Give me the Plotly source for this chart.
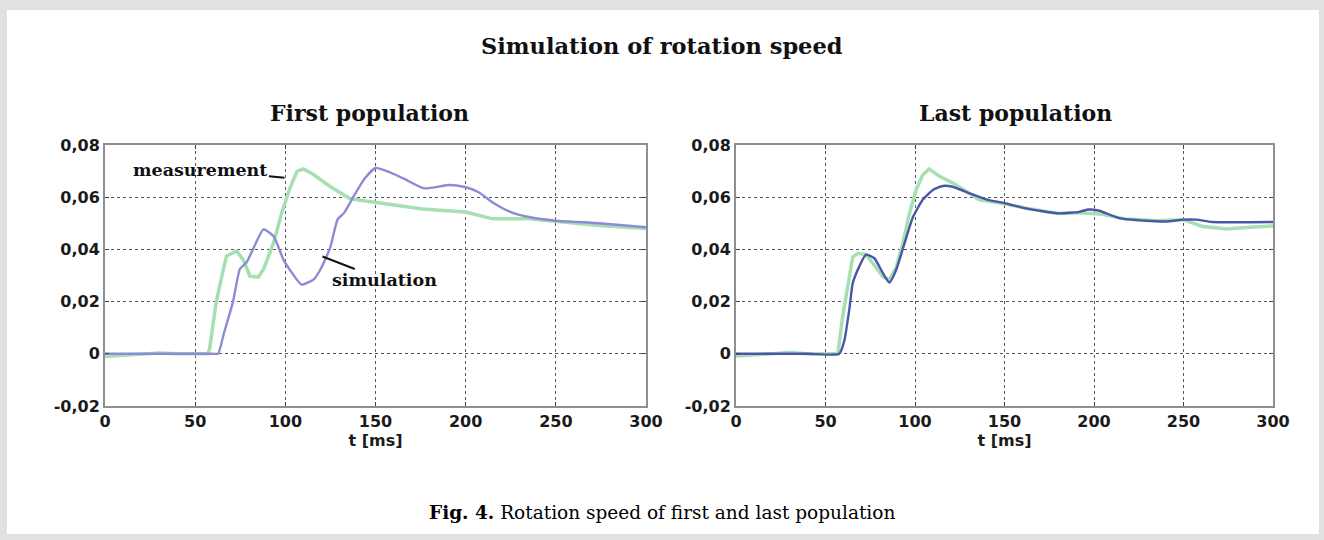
import plotly.graph_objects as go

# ---------------- data ----------------
t_meas_first = [0, 10, 20, 30, 40, 50, 57, 58, 61.7, 65.5, 67.4, 73, 76.7, 80.4, 85, 88,
                93.5, 98, 102.8, 106.6, 110, 115, 125, 136, 150, 176, 200, 215, 235,
                250, 274, 300]
v_meas_first = [-0.001, -0.0005, 0, 0.0003, 0, 0, 0, 0.002, 0.02, 0.032, 0.0375, 0.0394,
                0.036, 0.0297, 0.0294, 0.0325, 0.0426, 0.054, 0.064, 0.070, 0.0708, 0.069,
                0.064, 0.0594, 0.058, 0.0555, 0.0543, 0.0517, 0.0517, 0.0507, 0.0492, 0.048]

t_sim_first = [0, 20, 40, 60, 62.7, 66, 71, 74.8, 78.5, 82, 87.9, 93.5, 99, 103.7, 109,
               115.8, 119.6, 122, 125, 129, 132.6, 138, 143.8, 150, 158, 166, 177, 191,
               199, 207, 215, 225, 235, 250, 274, 300]
v_sim_first = [0, 0, 0, 0, 0, 0.008, 0.02, 0.0325, 0.035, 0.04, 0.0477, 0.045, 0.036,
               0.031, 0.0265, 0.0285, 0.0325, 0.036, 0.041, 0.0515, 0.054, 0.0605, 0.067,
               0.0712, 0.0695, 0.067, 0.0634, 0.0647, 0.064, 0.062, 0.058, 0.0543, 0.0524,
               0.051, 0.050, 0.0485]

t_meas_last = [0, 10, 20, 30, 40, 50, 56.9, 59.6, 62.4, 65.2, 68, 72.6, 76.4, 82, 85.7,
               89.4, 93.1, 96.9, 100.6, 104.3, 108, 113.7, 121, 130.4, 136, 150, 162, 180,
               192, 203, 218, 235, 250, 260, 274, 287, 300]
v_meas_last = [-0.0008, -0.0005, 0, 0.0005, 0, 0, 0, 0.0143, 0.0257, 0.037, 0.0385, 0.038,
               0.0347, 0.0296, 0.0283, 0.033, 0.042, 0.0538, 0.0627, 0.0685, 0.0708, 0.068,
               0.0655, 0.0615, 0.059, 0.0575, 0.0558, 0.0538, 0.054, 0.0536, 0.0516, 0.051,
               0.0514, 0.0489, 0.0478, 0.0485, 0.049]

t_sim_last = [0, 20, 40, 57.7, 60.5, 63.3, 65.2, 68.9, 72.6, 77.3, 82, 85.7, 89.4, 94,
              98.8, 104.3, 110, 115.5, 121, 130.4, 139.7, 150, 162, 180.6, 191.7, 197, 203,
              214, 229, 240, 250, 257, 266, 300]
v_sim_last = [0, 0, 0, 0, 0.005, 0.017, 0.027, 0.0335, 0.038, 0.0366, 0.031, 0.0273, 0.032,
              0.042, 0.0523, 0.059, 0.0628, 0.0643, 0.064, 0.0615, 0.0592, 0.0577, 0.0557,
              0.0538, 0.0544, 0.0553, 0.0548, 0.052, 0.051, 0.0507, 0.0514, 0.0514, 0.0505,
              0.0505]

x_tick_vals = [0, 50, 100, 150, 200, 250, 300]
x_tick_text = ["0", "50", "100", "150", "200", "250", "300"]
y_tick_vals = [-0.02, 0, 0.02, 0.04, 0.06, 0.08]
y_tick_text = ["-0,02", "0", "0,02", "0,04", "0,06", "0,08"]

main_title = "Simulation of rotation speed"
sub_titles = ["First population", "Last population"]
x_title = "t [ms]"
caption = "<b>Fig. 4.</b> Rotation speed of first and last population"

# ---------------- figure ----------------
W, H = 1324, 540
GREEN = "#a6dfb0"
BLUE_FIRST = "#8b8bd6"
BLUE_LAST = "#4b56a8"

fig = go.Figure()
fig.add_trace(go.Scatter(x=t_meas_first, y=v_meas_first, mode="lines",
                         line=dict(color=GREEN, width=3.5), xaxis="x", yaxis="y",
                         showlegend=False))
fig.add_trace(go.Scatter(x=t_sim_first, y=v_sim_first, mode="lines",
                         line=dict(color=BLUE_FIRST, width=2.4, shape="spline", smoothing=0.5),
                         xaxis="x", yaxis="y", showlegend=False))
fig.add_trace(go.Scatter(x=t_meas_last, y=v_meas_last, mode="lines",
                         line=dict(color=GREEN, width=3.5), xaxis="x2", yaxis="y2",
                         showlegend=False))
fig.add_trace(go.Scatter(x=t_sim_last, y=v_sim_last, mode="lines",
                         line=dict(color=BLUE_LAST, width=2.4, shape="spline", smoothing=0.5),
                         xaxis="x2", yaxis="y2", showlegend=False))

tick_font = dict(family="DejaVu Sans", size=16, color="#1a1a1a", weight="bold")
ydom = [1 - 406 / H, 1 - 145 / H]

def xaxis(dom, anchor):
    return dict(domain=dom, anchor=anchor, range=[0, 300], tickvals=x_tick_vals,
                ticktext=x_tick_text, tickfont=tick_font, showgrid=True,
                gridcolor="#555555", griddash="3px,3px", gridwidth=1,
                showline=True, linecolor="#8f8f8f", linewidth=2, mirror="ticks",
                ticks="inside", ticklen=4, tickcolor="#444444", zeroline=False,
                automargin=False,
                title=dict(text=x_title, font=tick_font, standoff=2), fixedrange=True)

def yaxis(anchor):
    return dict(domain=ydom, anchor=anchor, range=[-0.02, 0.08], tickvals=y_tick_vals,
                ticktext=y_tick_text, tickfont=tick_font, showgrid=True,
                gridcolor="#555555", griddash="3px,3px", gridwidth=1,
                showline=True, linecolor="#8f8f8f", linewidth=2, mirror="ticks",
                ticks="inside", ticklen=4, tickcolor="#444444", zeroline=False,
                automargin=False, fixedrange=True)

ann = []
ann.append(dict(text=main_title, x=662 / W, y=1 - 46 / H, xref="paper", yref="paper",
                showarrow=False, xanchor="center", yanchor="middle",
                font=dict(family="DejaVu Serif", size=22.5, color="#111111", weight="bold")))
for cx, txt in zip([369, 1015], sub_titles):
    ann.append(dict(text=txt, x=cx / W, y=1 - 113 / H, xref="paper", yref="paper",
                    showarrow=False, xanchor="center", yanchor="middle",
                    font=dict(family="DejaVu Serif", size=22, color="#111111", weight="bold")))
ann.append(dict(text=caption, x=662 / W, y=1 - 512 / H, xref="paper", yref="paper",
                showarrow=False, xanchor="center", yanchor="middle",
                font=dict(family="DejaVu Serif", size=18.5, color="#000000")))
# curve labels in the first plot
ann.append(dict(text="measurement", x=99.5, y=0.0675, xref="x", yref="y",
                showarrow=True, arrowhead=0, arrowwidth=2, arrowcolor="#111111",
                ax=-84, ay=-8, standoff=0,
                font=dict(family="DejaVu Serif", size=17.5, color="#111111", weight="bold")))
ann.append(dict(text="simulation", x=120.6, y=0.0373, xref="x", yref="y",
                showarrow=True, arrowhead=0, arrowwidth=2, arrowcolor="#111111",
                ax=62, ay=24, standoff=0,
                font=dict(family="DejaVu Serif", size=17.5, color="#111111", weight="bold")))

shapes = [dict(type="rect", xref="paper", yref="paper", x0=7 / W, x1=1319 / W,
               y0=1 - 534 / H, y1=1 - 10 / H, fillcolor="white", line=dict(width=0),
               layer="below")]

fig.update_layout(
    width=W, height=H, autosize=False,
    margin=dict(l=0, r=0, t=0, b=0, pad=0),
    paper_bgcolor="#e1e1e1", plot_bgcolor="white",
    xaxis=xaxis([105 / W, 646 / W], "y"),
    yaxis=yaxis("x"),
    xaxis2=xaxis([736 / W, 1273 / W], "y2"),
    yaxis2=yaxis("x2"),
    annotations=ann, shapes=shapes,
)

fig.write_html(
    "out.html",
    config=dict(displayModeBar=False),
    post_script="document.body.style.margin='0';document.body.style.background='#e1e1e1';",
)
